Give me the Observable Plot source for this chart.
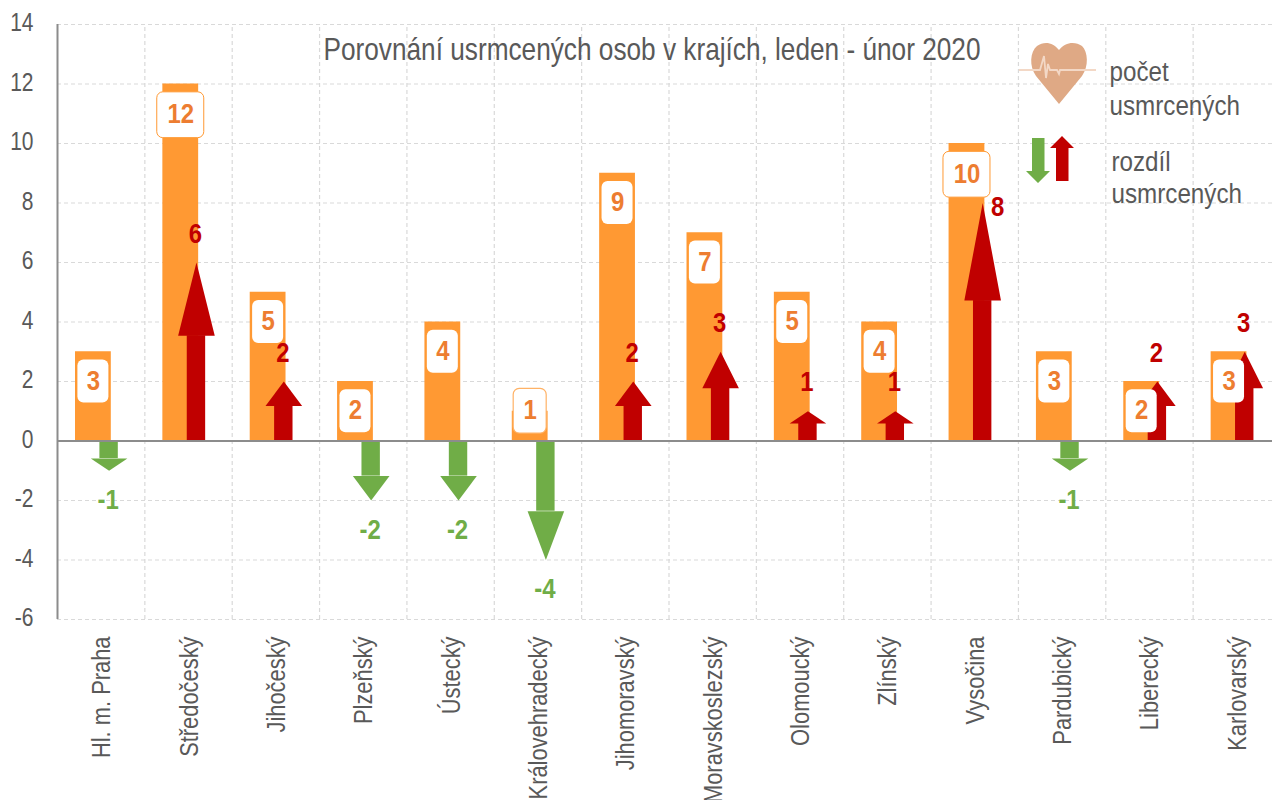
<!DOCTYPE html>
<html><head><meta charset="utf-8">
<script src="https://cdn.jsdelivr.net/npm/d3@7"></script>
<script src="https://cdn.jsdelivr.net/npm/@observablehq/plot@0.6"></script>
<style>html,body{margin:0;padding:0;background:#fff;overflow:hidden}svg{display:block}</style>
</head><body><div id="c"></div>
<script>
const kraje = ["Hl. m. Praha","Středočeský","Jihočeský","Plzeňský","Ústecký","Královehradecký","Jihomoravský","Moravskoslezský","Olomoucký","Zlínský","Vysočina","Pardubický","Liberecký","Karlovarský"];
const pocet = [3,12,5,2,4,1,9,7,5,4,10,3,2,3];
const rozdil = [-1,6,2,-2,-2,-4,2,3,1,1,8,-1,2,3];
const yTicks = [-6,-4,-2,0,2,4,6,8,10,12,14];
const title = "Porovnání usrmcených osob v krajích, leden - únor 2020";

const ORANGE="#FF9933", RED="#C00000", GREEN="#70AD47", TXT="#595959", LAB="#ED7D31", GRID="#D9D9D9";
const FONT='"Liberation Sans",Arial,sans-serif';
const rows = kraje.map((k,i)=>({k,v:pocet[i],d:rozdil[i]}));
const step=(1280-57)/14, center=step/2;
const barL=18, barW=35.8, arrL=42.4, arrW=18.4;
const head=.41;
const dc=d=>d.d>0?RED:GREEN;
const labelCenter=d=>d.v>=10?d.v-1.05:Math.max(d.v-1,1);
const box=(filter,w,h,extra={})=>Plot.barY(rows.filter(filter),{
  x:"k",y1:d=>labelCenter(d)-h,y2:d=>labelCenter(d)+h,
  insetLeft:barL+barW/2-w/2,insetRight:step-(barL+barW/2)-w/2,
  fill:"#fff",rx:6,...extra});
const legendTexts=[
 {t:"počet",x:1109,y:80},{t:"usmrcených",x:1109,y:114},
 {t:"rozdíl",x:1111,y:170},{t:"usmrcených",x:1111,y:202}];
const diffLabel=(filter,fill,dxx,dy)=>Plot.text(rows.filter(filter),{x:"k",y:"d",text:d=>String(d.d),fill,fontSize:28.5,fontWeight:"bold",dx:arrL+arrW/2-center+dxx,dy});

function heartLegend(){
  const g=d3.create("svg:g");
  g.append("path").attr("fill","#DFA985")
   .attr("d","M1059,104 L1036,76 C1029,66 1030,52 1037,46 C1044,41 1053,42 1059,50 C1065,42 1075,41 1082,46 C1088,52 1089,66 1082,76 Z");
  g.append("path").attr("fill","none").attr("stroke","#F3D8C6").attr("stroke-width",1.8)
   .attr("d","M1019,70 H1036 L1040,70 L1044,56 L1046,78 L1048,64 L1050,70 H1057 L1059,74 L1060,70 H1096");
  g.append("path").attr("fill",GREEN).attr("d","M1032,138 H1044.5 V171 H1050 L1038,183 L1026,171 H1032 Z");
  g.append("path").attr("fill",RED).attr("d","M1056,181 H1068.5 V148 H1074 L1062,136 L1050,148 H1056 Z");
  return g.node();
}

const chart = Plot.plot({
  width:1272,height:800,
  marginTop:24,marginBottom:181,marginLeft:57,marginRight:0,
  style:{fontFamily:FONT,background:"#fff",color:TXT},
  x:{type:"band",domain:kraje,range:[57,1280],padding:0,round:false,label:null},
  y:{domain:[-6,14],label:null},
  length:{type:"linear",domain:[0,1],range:[0,29.75]},
  marks:[
    Plot.ruleY(yTicks,{stroke:GRID,strokeWidth:1.2,strokeDasharray:"4 3"}),
    Plot.ruleX(kraje.slice(1),{x:d=>d,y1:-6,y2:14,dx:-center,stroke:GRID,strokeWidth:1.2,strokeDasharray:"4 3"}),
    Plot.barY(rows,{x:"k",y:"v",fill:ORANGE,insetLeft:barL,insetRight:step-barL-barW}),
    Plot.barY(rows,{x:"k",y1:0,y2:d=>d.d*(1-head),fill:dc,insetLeft:arrL,insetRight:step-arrL-arrW}),
    Plot.vector(rows,{x:"k",y:"d",length:d=>Math.abs(d.d)*head,rotate:d=>d.d>0?0:180,anchor:"end",dx:arrL+arrW/2-center,
      fill:dc,stroke:"none",
      shape:{draw(c,l){c.moveTo(0,-l);c.lineTo(18.3,0);c.lineTo(-18.3,0);c.closePath();}}}),
    Plot.ruleY([0],{stroke:"#8C8C8C",strokeWidth:2}),
    Plot.ruleX(kraje.slice(0,1),{x:d=>d,y1:-6,y2:14,dx:-center,stroke:"#8C8C8C",strokeWidth:2}),
    box(d=>d.v<10&&d.v>1,31,.72),
    box(d=>d.v>=10,47,.77,{stroke:ORANGE,strokeWidth:1}),
    box(d=>d.v===1,33,.75,{stroke:"#FFB266",strokeWidth:1.2}),
    Plot.text(rows,{x:"k",y:labelCenter,text:d=>String(d.v),dx:barL+barW/2-center,dy:-1,fill:LAB,fontSize:28.5,fontWeight:"bold"}),
    diffLabel(d=>d.d>0&&d.d!==8,RED,-1,-29),
    diffLabel(d=>d.d===8,RED,15,4),
    diffLabel(d=>d.d<0,GREEN,-1,29),
    Plot.axisY({ticks:yTicks,tickSize:0,tickPadding:24,fontSize:25,dy:-1.5,tickFormat:d=>String(d),fill:TXT,label:null}),
    Plot.axisX({tickSize:0,tickPadding:17,tickRotate:-90,fontSize:25,dx:1,fill:TXT,label:null}),
    heartLegend,
    Plot.text([title],{frameAnchor:"top-left",text:d=>d,dx:323-57,dy:49-24,fontSize:32,fill:TXT,textAnchor:"start",lineAnchor:"middle"}),
    ...legendTexts.map(l=>Plot.text([l.t],{frameAnchor:"top-left",text:d=>d,dx:l.x-57,dy:l.y-24,fontSize:27.5,fill:TXT,textAnchor:"start",lineAnchor:"bottom"}))
  ]
});
document.getElementById("c").append(chart);
// the reference uses a condensed face: squeeze the installed face to the same text widths
const legendWords=new Set(legendTexts.map(l=>l.t));
const kSet=new Set(kraje);
chart.querySelectorAll("text").forEach(t=>{
  const s=t.textContent, len=t.getComputedTextLength();
  if(!len) return;
  const target = s===title ? 657 : legendWords.has(s) ? len*.88 : kSet.has(s) ? len*.875 : len*.84;
  t.setAttribute("textLength",target);
  t.setAttribute("lengthAdjust","spacingAndGlyphs");
});
</script></body></html>
